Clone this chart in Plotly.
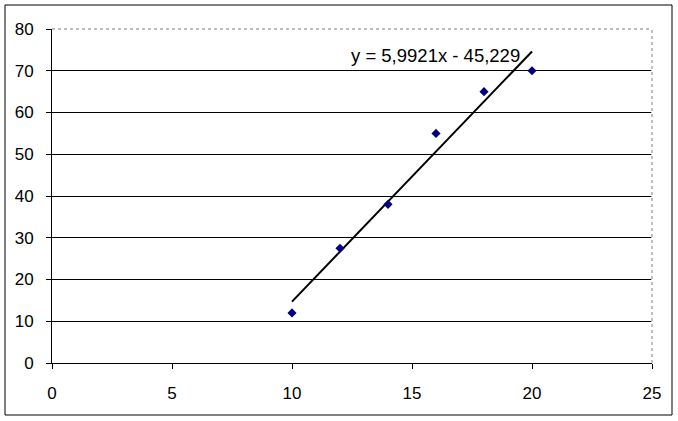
import plotly.graph_objects as go

x_vals = [10, 12, 14, 16, 18, 20]
y_vals = [12, 27.5, 38, 55, 65, 70]
slope = 5.9921
intercept = -45.229
trend_x = [10, 20]
trend_y = [slope * v + intercept for v in trend_x]
eq_label = "y = 5,9921x - 45,229"
x_ticks = [0, 5, 10, 15, 20, 25]
y_ticks = [0, 10, 20, 30, 40, 50, 60, 70, 80]

font = "Liberation Sans, Arial, sans-serif"

fig = go.Figure()
fig.add_trace(go.Scatter(x=trend_x, y=trend_y, mode="lines",
                         line=dict(color="black", width=2), hoverinfo="skip"))
fig.add_trace(go.Scatter(x=x_vals, y=y_vals, mode="markers",
                         marker=dict(symbol="diamond", size=7, color="#000080")))

fig.add_annotation(x=15.96, y=73.6, text=eq_label, showarrow=False,
                   font=dict(family=font, size=18.5, color="black"))

# top/right plot-area border (gray dotted)
for sx0, sy0, sx1, sy1 in [(0, 1, 1, 1), (1, 0, 1, 1)]:
    fig.add_shape(type="line", xref="paper", yref="paper", x0=sx0, y0=sy0, x1=sx1, y1=sy1,
                  line=dict(color="white", width=1.5), layer="above")
    fig.add_shape(type="line", xref="paper", yref="paper", x0=sx0, y0=sy0, x1=sx1, y1=sy1,
                  line=dict(color="#808080", width=1, dash="dot"), layer="above")

# outer chart border
fig.add_shape(type="rect", xref="paper", yref="paper",
              x0=(5 - 52) / 600, x1=(672 - 52) / 600,
              y0=(363 - 415) / 334, y1=(363 - 5) / 334,
              line=dict(color="black", width=1), layer="below")

fig.update_layout(
    width=678, height=421,
    margin=dict(l=52, r=26, t=29, b=58),
    paper_bgcolor="white", plot_bgcolor="white",
    showlegend=False,
    font=dict(family=font, size=16, color="black"),
    xaxis=dict(range=[0, 25], tickvals=x_ticks, showgrid=False, zeroline=False,
               showline=True, linecolor="black", linewidth=1,
               ticks="outside", ticklen=5, tickcolor="black",
               ticklabelstandoff=10, tickfont=dict(size=17)),
    yaxis=dict(range=[0, 80], tickvals=y_ticks, showgrid=True, gridcolor="black",
               gridwidth=1, zeroline=False,
               showline=True, linecolor="black", linewidth=1,
               ticks="outside", ticklen=5, tickcolor="black",
               ticklabelstandoff=9, tickfont=dict(size=17)),
)

fig.write_html("out.html", config={"displayModeBar": False},
               post_script="document.body.style.margin='0';document.body.style.padding='0';")
